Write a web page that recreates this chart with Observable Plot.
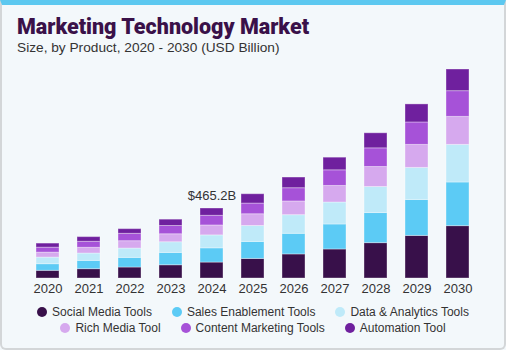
<!DOCTYPE html>
<html>
<head>
<meta charset="utf-8">
<script src="https://cdn.jsdelivr.net/npm/d3@7"></script>
<script src="https://cdn.jsdelivr.net/npm/@observablehq/plot@0.6"></script>
<style>
  html, body { margin: 0; padding: 0; background: #ffffff; }
  #card { position: relative; width: 506px; height: 350px; background: #f3f8fb; overflow: hidden; font-family: "Liberation Sans", Arial, sans-serif; }
  #frame { position: absolute; left: 0; top: 0; width: 506px; height: 350px; box-sizing: border-box;
    border-top: 5px solid #5cc8f0; border-left: 2px solid #d3d6d8; border-right: 2px solid #d3d6d8; border-bottom: 2px solid #d3d6d8;
    border-radius: 0 0 6px 6px; pointer-events: none; }
  #topline { position: absolute; left: 0; top: 0; width: 506px; height: 1px; background: #cfd8dc; }
  #title { position: absolute; left: 17px; top: 14px; font-family: "Roboto", sans-serif; font-weight: 900; font-size: 21.5px; color: #3a1149; white-space: nowrap; }
  #subtitle { position: absolute; left: 17px; top: 40px; font-size: 13.7px; color: #333333; white-space: nowrap; }
  #chart { position: absolute; left: 0; top: 60px; }
  #legend { position: absolute; left: 0; top: 304px; width: 506px; font-size: 12px; color: #333333; }
  .row { display: flex; justify-content: center; gap: 20px; height: 16px; align-items: center; }
  .item { display: flex; align-items: center; white-space: nowrap; }
  .dot { width: 10px; height: 10px; border-radius: 50%; margin-right: 5px; }
</style>
</head>
<body>
<div id="card">
  <div id="title">Marketing Technology Market</div>
  <div id="subtitle">Size, by Product, 2020 - 2030 (USD Billion)</div>
  <div id="chart"></div>
  <div id="legend"></div>
  <div id="topline"></div>
  <div id="frame"></div>
</div>
<script>
const years = [2020, 2021, 2022, 2023, 2024, 2025, 2026, 2027, 2028, 2029, 2030];
const seriesNames = ["Social Media Tools", "Sales Enablement Tools", "Data & Analytics Tools", "Rich Media Tool", "Content Marketing Tools", "Automation Tool"];
const socialMedia = [51, 62, 73, 88, 106, 130, 160, 193, 235, 283, 348];
const salesEnablement = [44, 55, 64, 82, 94.5, 113, 137, 166, 200, 239, 290];
const dataAnalytics = [44, 49, 62, 71, 86, 106, 124, 146, 173, 213, 250];
const richMedia = [33, 38, 49, 53, 66, 78, 91, 110, 133, 153, 186];
const contentMarketing = [33, 40, 49, 55, 64.2, 71, 88, 104, 124, 149, 171];
const automation = [27, 31, 31, 42, 48.5, 62, 71, 84, 100, 120, 144];
const colors = ["#38104a", "#5ccbf5", "#bfeaf9", "#d6a9ee", "#a652d8", "#6f209e"];
const annotatedYear = 2024;

const seriesValues = [socialMedia, salesEnablement, dataAnalytics, richMedia, contentMarketing, automation];
const rows = [];
seriesNames.forEach((name, si) => {
  years.forEach((yr, i) => rows.push({ year: String(yr), series: name, value: seriesValues[si][i] }));
});
const totals = years.map((yr, i) => ({ year: String(yr), total: +seriesValues.reduce((s, arr) => s + arr[i], 0).toFixed(1) }));
const maxTotal = d3.max(totals, d => d.total);
const annot = totals.filter(d => d.year === String(annotatedYear));

const plot = Plot.plot({
  width: 506,
  height: 245,
  marginTop: 9,
  marginBottom: 27,
  marginLeft: 12,
  marginRight: 14,
  style: { background: "transparent", fontFamily: "Liberation Sans, Arial, sans-serif", fontSize: "13px", color: "#333333" },
  x: { domain: years.map(String), padding: 0.45, label: null, tickSize: 0, tickPadding: 5 },
  y: { domain: [0, maxTotal], axis: null, nice: false },
  color: { domain: seriesNames, range: colors },
  marks: [
    Plot.barY(rows, Plot.stackY({ x: "year", y: "value", fill: "series", z: "series", order: seriesNames, stroke: "#ffffff", strokeOpacity: 0.35, strokeWidth: 1 })),
    Plot.text(annot, { x: "year", y: "total", text: d => `$${d.total}B`, lineAnchor: "bottom", dy: -9, fontSize: 13, fill: "#333333" })
  ]
});
document.getElementById("chart").appendChild(plot);

const legend = document.getElementById("legend");
[[0, 1, 2], [3, 4, 5]].forEach(idx => {
  const row = document.createElement("div");
  row.className = "row";
  idx.forEach(i => {
    const item = document.createElement("div");
    item.className = "item";
    const dot = document.createElement("span");
    dot.className = "dot";
    dot.style.background = colors[i];
    const label = document.createElement("span");
    label.textContent = seriesNames[i];
    item.appendChild(dot);
    item.appendChild(label);
    row.appendChild(item);
  });
  legend.appendChild(row);
});
</script>
</body>
</html>
